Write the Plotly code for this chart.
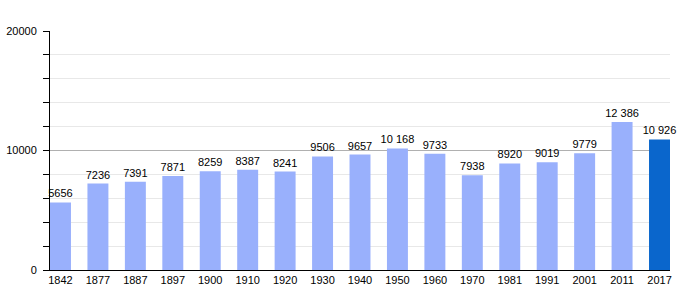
import plotly.graph_objects as go

years = ["1842", "1877", "1887", "1897", "1900", "1910", "1920", "1930", "1940",
         "1950", "1960", "1970", "1981", "1991", "2001", "2011", "2017"]
population = [5656, 7236, 7391, 7871, 8259, 8387, 8241, 9506, 9657,
              10168, 9733, 7938, 8920, 9019, 9779, 12386, 10926]

def fmt(v):
    s = str(v)
    if v >= 10000:
        s = s[:-3] + " " + s[-3:]
    return s

labels = [fmt(v) for v in population]
colors = ["#99b0fc"] * (len(years) - 1) + ["#0a66cc"]

fig = go.Figure(go.Bar(
    x=years, y=population, text=labels, textposition="outside",
    constraintext="none",
    marker=dict(color=colors, line=dict(width=0)),
    textfont=dict(size=11, color="#000"), cliponaxis=False,
))

fig.update_layout(
    width=700, height=300,
    margin=dict(l=50, r=30, t=31, b=30, autoexpand=False),
    paper_bgcolor="white", plot_bgcolor="white",
    font=dict(family="Liberation Sans, Arial, sans-serif", size=11, color="#000"),
    bargap=0.44, showlegend=False,
    xaxis=dict(type="category", range=[-0.28, 16.28], showline=True,
               linecolor="#000", linewidth=1, ticks="", showgrid=False,
               automargin=False,
               tickfont=dict(size=11, color="#000")),
    yaxis=dict(range=[0, 20000], dtick=10000, tick0=0, showline=True,
               linecolor="#000", linewidth=1, ticks="outside", ticklen=6,
               tickcolor="#000", showgrid=True, gridcolor="#b0b0b0",
               zeroline=False, tickformat="d", ticklabelstandoff=4,
               automargin=False,
               tickfont=dict(size=11, color="#000"),
               minor=dict(dtick=2000, ticks="outside", ticklen=6,
                          tickcolor="#000", showgrid=True, gridcolor="#e8e8e8")),
)

fig.write_html("out.html")
